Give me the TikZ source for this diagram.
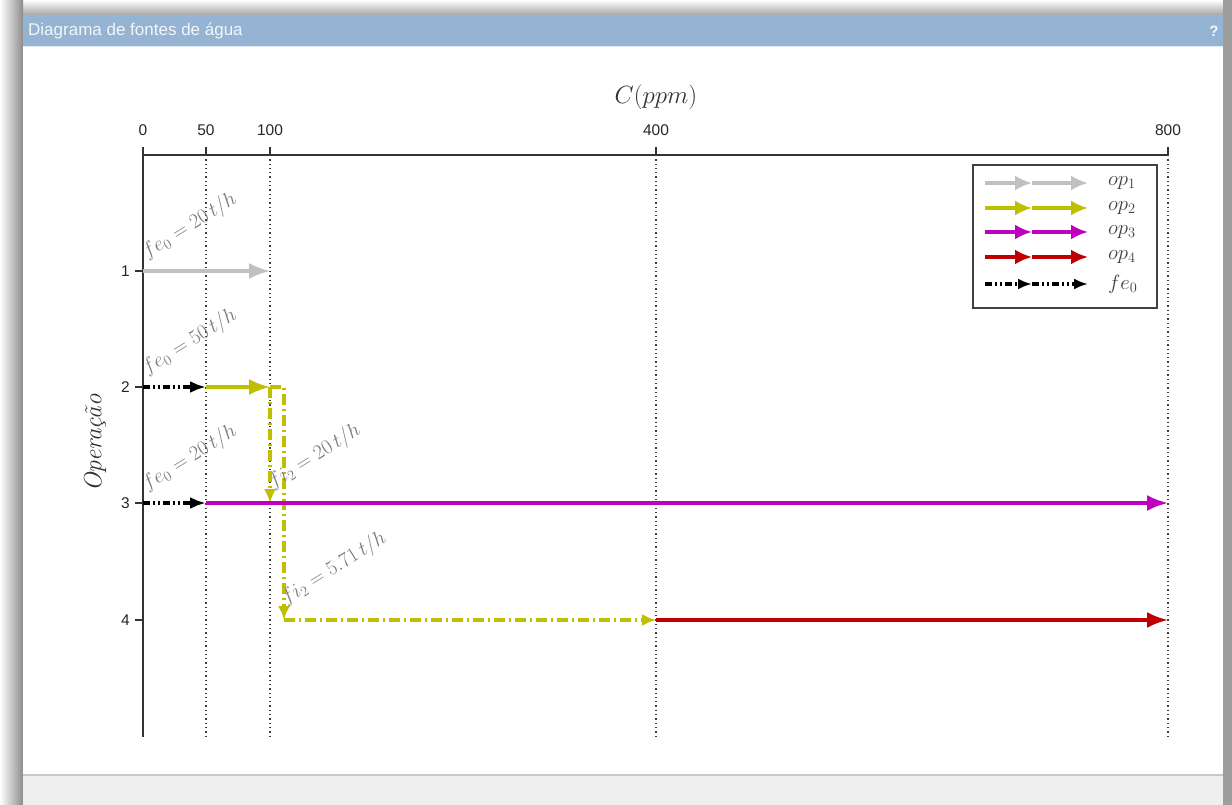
\documentclass[tikz,border=0pt]{standalone}
\usepackage{fontspec}
\newfontfamily\uisans{Liberation Sans}
\usetikzlibrary{arrows.meta}

\definecolor{titlebar}{HTML}{95B3D2}
\definecolor{titletext}{HTML}{F2F6FA}
\definecolor{footbar}{HTML}{EFEFEF}
\definecolor{opgray}{HTML}{C0C0C0}
\definecolor{opolive}{HTML}{BFBF00}
\definecolor{opmag}{HTML}{BF00BF}
\definecolor{opred}{HTML}{C00000}
\definecolor{lblgray}{HTML}{7A7A7A}

\tikzset{
  axisline/.style={line width=1.6pt, draw=black!80},
  gridline/.style={line width=1.1pt, draw=black!75, dash pattern=on 1.3pt off 3pt},
  ticklbl/.style={font=\uisans\fontsize{15.5}{17}\selectfont, text=black!85, inner sep=0pt},
  flow/.style={line width=3.2pt},
  bighead/.style={-{Latex[length=21pt,width=16pt]}},
  midhead/.style={-{Latex[length=16pt,width=12pt]}},
  smallhead/.style={-{Latex[length=14pt,width=12pt]}},
  feflow/.style={flow, black, dash pattern=on 7pt off 3pt on 2pt off 3pt on 2pt off 3pt},
  fiflow/.style={flow, opolive, dash pattern=on 11pt off 4pt on 2pt off 4pt},
  flowlbl/.style={font=\fontsize{22.5}{27}\selectfont, text=lblgray, rotate=32, anchor=base west, inner sep=0pt},
  legendlbl/.style={font=\fontsize{21}{24}\selectfont, text=black!75, anchor=west, inner sep=0pt},
}

\begin{document}
\begin{tikzpicture}[x=1pt,y=-1pt]
\useasboundingbox (0,0) rectangle (1232,805);

% window frame and shadow
\fill[white] (0,0) rectangle (1232,805);
\shade[top color=white, bottom color=black!35] (0,0) rectangle (1232,15);
\shade[left color=white, right color=black!45] (0,0) rectangle (23,805);
\fill[black!38] (1223,0) rectangle (1232,805);
\fill[white] (23,15) rectangle (1223,805);

% title bar
\fill[titlebar] (23,15) rectangle (1223,46);
\draw[white!70!titlebar, line width=1pt] (23,46.5) -- (1223,46.5);
\node[anchor=west, font=\uisans\fontsize{17}{19}\selectfont, text=titletext, inner sep=0pt] (title) at (28,31.5) {Diagrama de fontes de água};
\node[font=\uisans\bfseries\fontsize{15}{17}\selectfont, text=titletext, inner sep=0pt] (help) at (1214,31.5) {?};

% footer bar
\fill[footbar] (23,775) rectangle (1223,805);
\draw[black!22, line width=1.5pt] (23,775) -- (1223,775);

% axis coordinates
\coordinate (o) at (143,155);
\coordinate (xe) at (1168,155);
\coordinate (ye) at (143,737);
\foreach \n/\x in {c0/143, c50/206, c100/270, c400/656, c800/1168} {
  \coordinate (\n) at (\x,155);
}
\foreach \n/\y in {1/271, 2/387, 3/503, 4/620} {
  \coordinate (r\n) at (143,\y);
}

% grid lines
\foreach \n in {c50, c100, c400, c800} {
  \draw[gridline] (\n) -- (\n |- ye);
}

% axes
\draw[axisline] (o) -- (xe);
\draw[axisline] (o) -- (ye);
\foreach \n/\t in {c0/0, c50/50, c100/100, c400/400, c800/800} {
  \draw[axisline] (\n) -- ++(0,-8);
  \node[ticklbl] (t\n) at ([yshift=25pt]\n) {\t};
}
\foreach \n in {1,2,3,4} {
  \draw[axisline] (r\n) -- ++(-8,0);
  \node[ticklbl, anchor=east] (l\n) at ([xshift=-13pt]r\n) {\n};
}
\node[font=\fontsize{23}{27}\selectfont, text=black!80] (xlabel) at (656,97) {$C(ppm)$};
\node[font=\fontsize{25}{29}\selectfont, text=black!80, rotate=90] (ylabel) at (95,443) {\itshape Operação};

% flow points
\coordinate (p1e) at (c100 |- r1);
\coordinate (p2m) at (c50 |- r2);
\coordinate (p2e) at (c100 |- r2);
\coordinate (p3m) at (c50 |- r3);
\coordinate (p3e) at (c800 |- r3);
\coordinate (p3in) at (c100 |- r3);
\coordinate (k1) at (284,387);
\coordinate (k2) at (284,620);
\coordinate (p4m) at (c400 |- r4);
\coordinate (p4e) at (c800 |- r4);

% operation 1
\draw[flow, opgray, bighead] (r1) -- (p1e);
% operation 2
\draw[feflow, midhead] (r2) -- (p2m);
\draw[flow, opolive, bighead] (p2m) -- (p2e);
% reuse of operation 2 outlet
\draw[fiflow, smallhead] (p2e) -- (p3in);
\draw[fiflow, smallhead] (p2e) -- (k1) -- (k2);
\draw[fiflow, smallhead] (k2) -- (p4m);
% operation 3
\draw[feflow, midhead] (r3) -- (p3m);
\draw[flow, opmag, bighead] (p3m) -- (p3e);
% operation 4
\draw[flow, opred, bighead] (p4m) -- (p4e);

% flow labels
\node[flowlbl] (fe1) at (147,259) {$fe_0 = 20\,t/h$};
\node[flowlbl] (fe2) at (147,375) {$fe_0 = 50\,t/h$};
\node[flowlbl] (fe3) at (147,491) {$fe_0 = 20\,t/h$};
\node[flowlbl] (fi3) at (273,489) {$fi_2 = 20\,t/h$};
\node[flowlbl] (fi4) at (286,605) {$fi_2 = 5.71\,t/h$};

% legend
\draw[black!75, line width=1.2pt, fill=white] (973,165) rectangle (1157,308);
\foreach \i/\y/\c/\lab in {1/183/opgray/op_1, 2/208/opolive/op_2, 3/232/opmag/op_3, 4/257/opred/op_4} {
  \coordinate (ga\i) at (985,\y);
  \coordinate (gb\i) at (1032,\y);
  \coordinate (gc\i) at (1088,\y);
  \draw[flow, \c, -{Latex[length=17pt,width=15pt]}] (ga\i) -- (gb\i);
  \draw[flow, \c, -{Latex[length=17pt,width=15pt]}] (gb\i) -- (gc\i);
  \node[legendlbl] (gl\i) at (1108,\y) {$\lab$};
}
\coordinate (ga5) at (985,284);
\coordinate (gb5) at (1032,284);
\coordinate (gc5) at (1088,284);
\draw[feflow, -{Latex[length=14pt,width=11pt]}] (ga5) -- (gb5);
\draw[feflow, -{Latex[length=14pt,width=11pt]}] (gb5) -- (gc5);
\node[legendlbl] (gl5) at (1108,284) {$fe_0$};
\end{tikzpicture}
\end{document}
